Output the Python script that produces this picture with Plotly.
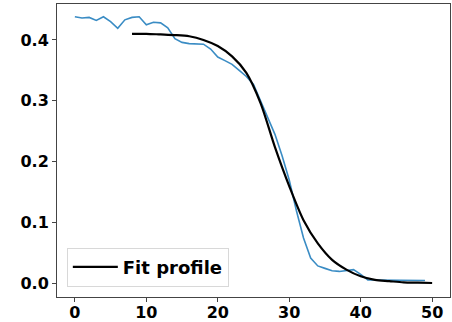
import plotly.graph_objects as go

data_x = list(range(50))
data_y = [0.438, 0.436, 0.437, 0.432, 0.438, 0.430, 0.419, 0.433, 0.437, 0.438,
          0.425, 0.429, 0.428, 0.420, 0.402, 0.396, 0.394, 0.393, 0.393, 0.385,
          0.372, 0.366, 0.360, 0.350, 0.340, 0.327, 0.300, 0.272, 0.245, 0.210,
          0.170, 0.120, 0.075, 0.042, 0.029, 0.025, 0.021, 0.020, 0.022, 0.023,
          0.015, 0.006, 0.006, 0.006, 0.005, 0.005, 0.005, 0.005, 0.005, 0.005]

fit_x = [8, 10, 12, 14, 16, 18, 20, 22, 24, 26, 28, 30, 32, 34, 36, 38, 40, 42, 44, 46, 48, 50]
fit_y = [0.410, 0.410, 0.409, 0.408, 0.406, 0.400, 0.390, 0.373, 0.346, 0.296, 0.224,
         0.160, 0.104, 0.066, 0.039, 0.023, 0.012, 0.006, 0.004, 0.002, 0.0015, 0.001]

x_ticks = [0, 10, 20, 30, 40, 50]
y_ticks = [0.0, 0.1, 0.2, 0.3, 0.4]

fig = go.Figure()
fig.add_trace(go.Scatter(x=data_x, y=data_y, mode="lines",
                         line=dict(color="#3a8cc4", width=1.6), showlegend=False))
fig.add_trace(go.Scatter(x=fit_x, y=fit_y, mode="lines", name="Fit profile",
                         line=dict(color="black", width=2.2, shape="spline", smoothing=0.8)))

font = dict(family="DejaVu Sans", size=16, color="black")
fig.update_layout(
    width=452, height=322,
    margin=dict(l=57, r=2, t=4, b=25, autoexpand=False),
    plot_bgcolor="white", paper_bgcolor="white",
    font=font,
    legend=dict(x=0.025, y=0.035, xanchor="left", yanchor="bottom", itemwidth=45,
                bgcolor="rgba(255,255,255,0.8)", bordercolor="#d8d8d8", borderwidth=1,
                font=dict(family="DejaVu Sans", size=18, color="black", weight="bold")),
)
fig.update_xaxes(range=[-2.5, 52.5], tickvals=x_ticks, ticktext=[f"<b>{v}</b>" for v in x_ticks],
                 showgrid=False, zeroline=False, showline=True, mirror=True, automargin=False,
                 linecolor="#444", linewidth=1, ticks="outside", ticklen=4, tickcolor="#444",
                 ticklabelstandoff=-3)
fig.update_yaxes(range=[-0.022, 0.459], tickvals=y_ticks, ticktext=[f"<b>{v:.1f}</b>" for v in y_ticks],
                 showgrid=False, zeroline=False, showline=True, mirror=True, automargin=False,
                 linecolor="#444", linewidth=1, ticks="outside", ticklen=4, tickcolor="#444")

fig.write_html("out.html", config={"displayModeBar": False},
               post_script="document.body.style.margin='0';")
